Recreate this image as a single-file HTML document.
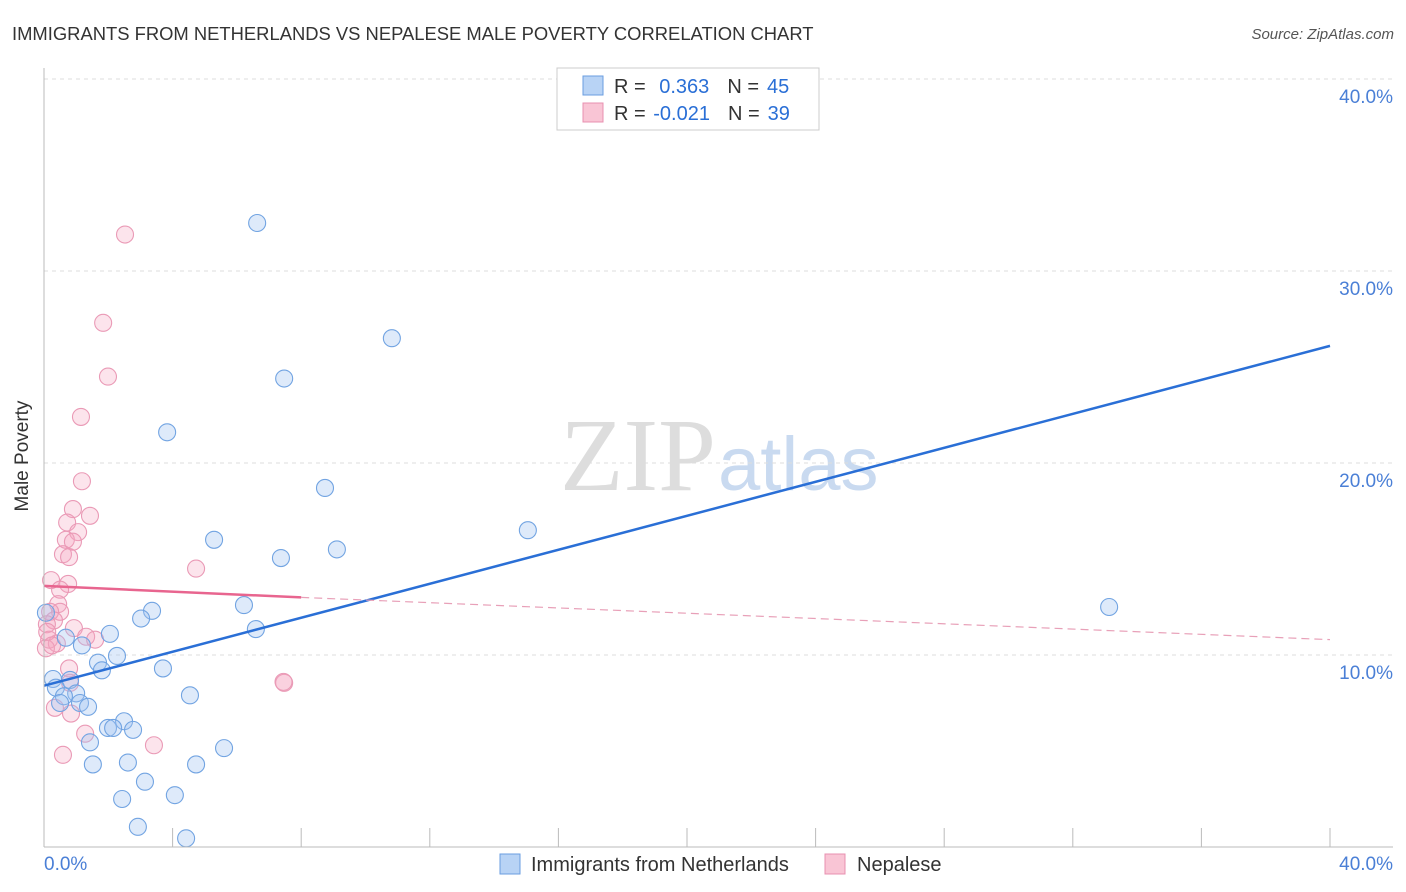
<!DOCTYPE html>
<html><head><meta charset="utf-8"><style>
body{margin:0;background:#fff;font-family:"Liberation Sans",sans-serif;}
svg{display:block}
</style></head><body>
<svg id="c" width="1406" height="892">
<text x="12" y="40" font-size="18.4" fill="#333">IMMIGRANTS FROM NETHERLANDS VS NEPALESE MALE POVERTY CORRELATION CHART</text>
<text x="1394" y="39" font-size="15" fill="#555" font-style="italic" text-anchor="end">Source: ZipAtlas.com</text>
<text x="716" y="490" font-size="104" fill="#ddd" text-anchor="end" font-family="Liberation Serif,serif">ZIP</text>
<text x="718" y="490" font-size="76" fill="#c9daf0">atlas</text>
<g id="grid"></g><g id="pts"></g><g id="lines"></g>
<line x1="44" y1="68" x2="44" y2="847" stroke="#bbb"/>
<line x1="44" y1="847" x2="1393" y2="847" stroke="#bbb"/>
<text x="28" y="456" font-size="19" fill="#333" text-anchor="middle" transform="rotate(-90 28 456)">Male Poverty</text>
<text x="44" y="870" font-size="19" fill="#4a7fd6">0.0%</text>
<text x="1393" y="870" font-size="19" fill="#4a7fd6" text-anchor="end">40.0%</text>
<g>
<rect x="557" y="68" width="262" height="62" fill="#fff" stroke="#ccc"/>
<rect x="583" y="76" width="20" height="19" fill="#b8d3f5" stroke="#6a9ee0"/>
<rect x="583" y="103" width="20" height="19" fill="#f9c5d5" stroke="#e890b0"/>
<text x="614" y="93" font-size="20" fill="#333">R = <tspan fill="#2a6fd6" dx="8">0.363</tspan><tspan dx="18" fill="#333">N =</tspan><tspan dx="8" fill="#2a6fd6">45</tspan></text>
<text x="614" y="120" font-size="20" fill="#333">R = <tspan fill="#2a6fd6" dx="2">-0.021</tspan><tspan dx="18" fill="#333">N =</tspan><tspan dx="8" fill="#2a6fd6">39</tspan></text>
</g>
<g>
<rect x="500" y="854" width="20" height="20" fill="#b8d3f5" stroke="#6a9ee0"/>
<text x="531" y="871" font-size="20" fill="#333">Immigrants from Netherlands</text>
<rect x="825" y="854" width="20" height="20" fill="#f9c5d5" stroke="#e890b0"/>
<text x="857" y="871" font-size="20" fill="#333">Nepalese</text>
</g>
</svg>
<script>
const yTicks=[10,20,30,40];
const yTickLabels=["10.0%","20.0%","30.0%","40.0%"];
const xTicks=[4,8,12,16,20,24,28,32,36,40];
const blueX=[6.63,10.82,7.47,3.83,8.74,15.05,5.29,7.37,9.11,33.13,6.22,3.36,3.02,6.59,2.05,1.18,0.68,2.27,1.68,1.8,3.7,0.28,0.81,0.37,1.0,0.62,4.54,1.12,0.5,1.37,2.49,1.99,2.15,2.77,5.6,1.43,1.52,2.61,4.73,3.14,2.43,4.07,2.92,4.42,0.06];
const blueY=[32.5,26.5,24.4,21.6,18.7,16.5,16.0,15.05,15.5,12.5,12.6,12.3,11.9,11.35,11.1,10.5,10.9,9.95,9.6,9.2,9.3,8.75,8.7,8.3,8.0,7.85,7.9,7.5,7.5,7.3,6.55,6.2,6.2,6.1,5.15,5.45,4.3,4.4,4.3,3.4,2.5,2.7,1.05,0.45,12.2];
const pinkX=[2.52,1.84,1.99,1.15,1.18,0.9,1.43,0.72,1.06,0.68,0.9,0.59,0.78,4.73,0.22,0.75,0.5,0.44,0.5,0.19,0.31,0.93,0.09,1.31,1.59,0.16,0.4,0.06,0.78,0.81,7.47,0.34,0.84,1.28,3.42,0.59,7.45,0.1,0.25];
const pinkY=[31.9,27.3,24.5,22.4,19.05,17.6,17.25,16.9,16.4,16.0,15.9,15.25,15.1,14.5,13.9,13.7,13.4,12.65,12.25,12.25,11.8,11.4,11.6,10.95,10.8,10.8,10.6,10.35,9.3,8.55,8.55,7.25,6.95,5.9,5.3,4.8,8.6,11.2,10.5];
const blueTrend=[[0,8.4],[40,26.1]];
const pinkTrend=[[0,13.6],[8,13.0],[40,10.8]];
const X=v=>44+v*32.15, Y=v=>847-v*19.2;
const NS="http://www.w3.org/2000/svg";
function mk(t,a,p){const e=document.createElementNS(NS,t);for(const k in a)e.setAttribute(k,a[k]);p.appendChild(e);return e;}
const g=document.getElementById('grid');
yTicks.forEach((t,i)=>{
 const l=mk('line',{x1:44,x2:1393,y1:Y(t),y2:Y(t),stroke:'#ddd','stroke-dasharray':'4,4'},g);
 
 
 const tx=mk('text',{x:1393,y:Y(t)+24,'font-size':19,fill:'#4a7fd6','text-anchor':'end'},g);
 tx.textContent=yTickLabels[i];
 
 
});
xTicks.forEach(t=>{
 const l=mk('line',{x1:X(t),x2:X(t),y1:828,y2:847,stroke:'#bbb'},g);
 
 
});
const p=document.getElementById('pts');
pinkX.forEach((x,i)=>{
 const c=mk('circle',{cx:X(x),cy:Y(pinkY[i]),r:8.5,fill:'rgba(245,165,192,0.3)',stroke:'#ea9ab6','stroke-width':1.1},p);
 
 
});
blueX.forEach((x,i)=>{
 const c=mk('circle',{cx:X(x),cy:Y(blueY[i]),r:8.5,fill:'rgba(160,196,240,0.35)',stroke:'#72a4e2','stroke-width':1.1},p);
 
 
});
const L=document.getElementById('lines');
const bl=mk('line',{x1:X(blueTrend[0][0]),y1:Y(blueTrend[0][1]),x2:X(blueTrend[1][0]),y2:Y(blueTrend[1][1]),stroke:'#2a6fd6','stroke-width':2.5},L);


const pl=mk('line',{x1:X(pinkTrend[0][0]),y1:Y(pinkTrend[0][1]),x2:X(pinkTrend[1][0]),y2:Y(pinkTrend[1][1]),stroke:'#e8658f','stroke-width':2.5},L);


const pd=mk('line',{x1:X(pinkTrend[1][0]),y1:Y(pinkTrend[1][1]),x2:X(pinkTrend[2][0]),y2:Y(pinkTrend[2][1]),stroke:'#e8a0b8','stroke-width':1.2,'stroke-dasharray':'8,5'},L);


</script>
</body></html>
